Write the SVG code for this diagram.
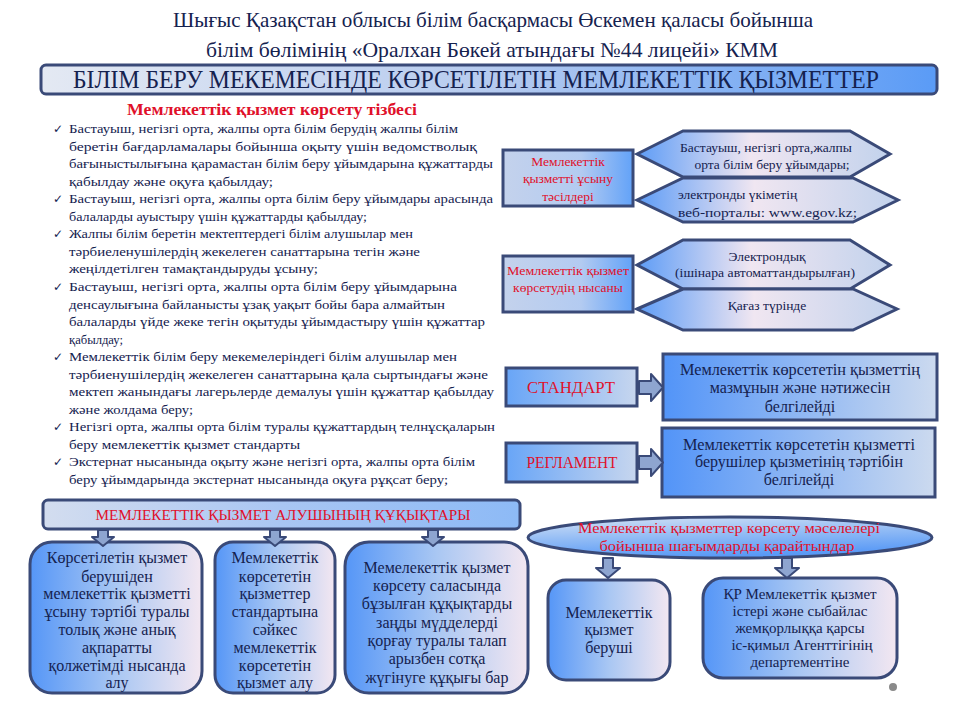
<svg xmlns="http://www.w3.org/2000/svg" width="960" height="720" viewBox="0 0 960 720">
<defs>
<linearGradient id="gBanner" x1="0" y1="0" x2="1" y2="0"><stop offset="0" stop-color="#e4e9f3"/><stop offset="0.5" stop-color="#b6cbef"/><stop offset="1" stop-color="#5a9bf6"/></linearGradient>
<linearGradient id="gBL" x1="0" y1="0" x2="1" y2="0"><stop offset="0" stop-color="#5596f7"/><stop offset="0.5" stop-color="#a9c7f3"/><stop offset="1" stop-color="#f3e7f1"/></linearGradient>
<linearGradient id="gSmall" x1="0" y1="0" x2="1" y2="0"><stop offset="0" stop-color="#c4d2ec"/><stop offset="0.6" stop-color="#b3cbf1"/><stop offset="1" stop-color="#62a2f8"/></linearGradient>
<linearGradient id="gHex" x1="0" y1="0" x2="1" y2="0"><stop offset="0" stop-color="#5d9cf6"/><stop offset="0.45" stop-color="#f0e6f1"/><stop offset="1" stop-color="#c2d2ec"/></linearGradient>
<linearGradient id="gStd" x1="0" y1="0" x2="1" y2="0"><stop offset="0" stop-color="#68a5f7"/><stop offset="1" stop-color="#c7d6ee"/></linearGradient>
<linearGradient id="gStdR" x1="0" y1="0" x2="1" y2="0"><stop offset="0" stop-color="#5294f8"/><stop offset="1" stop-color="#ccdaef"/></linearGradient>
<linearGradient id="gRights" x1="0" y1="0" x2="1" y2="0"><stop offset="0" stop-color="#d3ddef"/><stop offset="0.5" stop-color="#a9c6f3"/><stop offset="1" stop-color="#8dbaf6"/></linearGradient>
<linearGradient id="gEll" x1="0" y1="0" x2="0.3" y2="1"><stop offset="0" stop-color="#d6e3f5"/><stop offset="0.55" stop-color="#8fbaf5"/><stop offset="1" stop-color="#5a9af6"/></linearGradient>
<style>
.bd{stroke:#3a4a78;stroke-width:3}
.arr{fill:#8ea5d0;stroke:#3a4a78;stroke-width:2;stroke-linejoin:round}
text{fill:#15224f}
.li{font-size:13.5px}
.ck{font-size:12px}
.red{fill:#e0102a}
.c{text-anchor:middle}
.h{font-size:13.5px}
.b{font-size:16px}
</style>
</defs>
<g font-family="'Liberation Serif', 'Times New Roman', serif">
<g id="title">
<text x="493" y="27" text-anchor="middle" font-size="21" textLength="640" lengthAdjust="spacingAndGlyphs">Шығыс Қазақстан  облысы білім басқармасы Өскемен қаласы бойынша</text>
<text x="492" y="57" text-anchor="middle" font-size="21" textLength="572" lengthAdjust="spacingAndGlyphs">білім бөлімінің «Оралхан Бөкей атындағы №44 лицейі» КММ</text>
</g>

<g id="banner">
<rect x="41" y="65" width="896" height="29" rx="5" fill="url(#gBanner)" class="bd"/>
<text x="476" y="88" text-anchor="middle" font-size="25" textLength="806" lengthAdjust="spacingAndGlyphs">БІЛІМ БЕРУ МЕКЕМЕСІНДЕ КӨРСЕТІЛЕТІН МЕМЛЕКЕТТІК ҚЫЗМЕТТЕР</text>
</g>

<g id="list">
<text class="red" x="272" y="115" text-anchor="middle" font-size="16" font-weight="bold" textLength="290" lengthAdjust="spacingAndGlyphs">Мемлекеттік қызмет көрсету тізбесі</text>
<g font-family="DejaVu Sans, sans-serif" class="ck">
<text x="53" y="133">✓</text>
<text x="53" y="203">✓</text>
<text x="53" y="238">✓</text>
<text x="53" y="291">✓</text>
<text x="53" y="361">✓</text>
<text x="53" y="431">✓</text>
<text x="53" y="466">✓</text>
</g>
<g class="li">
<text x="69" y="133" textLength="389" lengthAdjust="spacingAndGlyphs">Бастауыш, негізгі орта, жалпы орта білім  берудің жалпы білім</text>
<text x="69" y="151" textLength="408" lengthAdjust="spacingAndGlyphs">беретін бағдарламалары бойынша оқыту үшін ведомстволық</text>
<text x="69" y="168" textLength="424" lengthAdjust="spacingAndGlyphs">бағыныстылығына қарамастан білім беру ұйымдарына құжаттарды</text>
<text x="69" y="186" textLength="204" lengthAdjust="spacingAndGlyphs">қабылдау және оқуға қабылдау;</text>
<text x="69" y="203" textLength="424" lengthAdjust="spacingAndGlyphs">Бастауыш, негізгі орта, жалпы орта білім  беру ұйымдары арасында</text>
<text x="69" y="221" textLength="298" lengthAdjust="spacingAndGlyphs">балаларды ауыстыру үшін құжаттарды қабылдау;</text>
<text x="69" y="238" textLength="344" lengthAdjust="spacingAndGlyphs">Жалпы білім  беретін мектептердегі білім алушылар мен</text>
<text x="69" y="256" textLength="351" lengthAdjust="spacingAndGlyphs">тәрбиеленушілердің  жекелеген санаттарына тегін және</text>
<text x="69" y="273" textLength="249" lengthAdjust="spacingAndGlyphs">жеңілдетілген  тамақтандыруды ұсыну;</text>
<text x="69" y="291" textLength="388" lengthAdjust="spacingAndGlyphs">Бастауыш, негізгі орта, жалпы орта білім  беру ұйымдарына</text>
<text x="69" y="309" textLength="376" lengthAdjust="spacingAndGlyphs">денсаулығына байланысты ұзақ уақыт бойы бара алмайтын</text>
<text x="69" y="326" textLength="416" lengthAdjust="spacingAndGlyphs">балаларды үйде жеке тегін оқытуды ұйымдастыру үшін құжаттар</text>
<text x="69" y="344" textLength="54" lengthAdjust="spacingAndGlyphs">қабылдау;</text>
<text x="69" y="361" textLength="388" lengthAdjust="spacingAndGlyphs">Мемлекеттік білім беру мекемелеріндегі білім  алушылар мен</text>
<text x="69" y="379" textLength="419" lengthAdjust="spacingAndGlyphs">тәрбиенушілердің  жекелеген санаттарына қала сыртындағы және</text>
<text x="69" y="396" textLength="425" lengthAdjust="spacingAndGlyphs">мектеп жанындағы лагерьлерде демалуы үшін құжаттар қабылдау</text>
<text x="69" y="414" textLength="124" lengthAdjust="spacingAndGlyphs">және жолдама беру;</text>
<text x="69" y="431" textLength="426" lengthAdjust="spacingAndGlyphs">Негізгі орта, жалпы  орта білім  туралы құжаттардың телнұсқаларын</text>
<text x="69" y="449" textLength="231" lengthAdjust="spacingAndGlyphs">беру мемлекеттік қызмет стандарты</text>
<text x="69" y="466" textLength="406" lengthAdjust="spacingAndGlyphs">Экстернат нысанында оқыту және негізгі  орта, жалпы орта білім</text>
<text x="69" y="484" textLength="379" lengthAdjust="spacingAndGlyphs">беру ұйымдарында экстернат нысанында оқуға рұқсат беру;</text>
</g>
</g>

<g id="methods">
<rect x="503" y="150" width="130" height="56" fill="url(#gSmall)" class="bd"/>
<text class="red h c" x="568" y="166">Мемлекеттік</text>
<text class="red h c" x="568" y="183">қызметті  ұсыну</text>
<text class="red h c" x="568" y="201">тәсілдері</text>
</g>
<g id="hex1">
<polygon points="637,154 683,131 850,131 890,154 850,177 683,177" fill="url(#gHex)" class="bd"/>
<text class="h c" x="766" y="152">Бастауыш, негізгі орта,жалпы</text>
<text class="h c" x="772" y="169">орта білім беру ұйымдары;</text>
</g>
<g id="hex2">
<polygon points="637,200 683,178 853,178 898,200 853,222 683,222" fill="url(#gHex)" class="bd"/>
<text class="h" x="678" y="199">электронды үкіметің</text>
<text class="h" x="678" y="217" textLength="179" lengthAdjust="spacingAndGlyphs">веб-порталы: www.egov.kz;</text>
</g>

<g id="form">
<rect x="503" y="256" width="130" height="56" fill="url(#gSmall)" class="bd"/>
<text class="red h c" x="568" y="275" textLength="122" lengthAdjust="spacingAndGlyphs">Мемлекеттік  қызмет</text>
<text class="red h c" x="568" y="292">көрсетудің нысаны</text>
</g>
<g id="hex3">
<polygon points="637,265 683,240 850,240 890,265 850,289 683,289" fill="url(#gHex)" class="bd"/>
<text class="h c" x="767" y="261">Электрондық</text>
<text class="h c" x="765" y="277" textLength="180" lengthAdjust="spacingAndGlyphs">(ішінара  автоматтандырылған)</text>
</g>
<g id="hex4">
<polygon points="637,309 683,289 853,289 897,309 853,330 683,330" fill="url(#gHex)" class="bd"/>
<text class="h c" x="767" y="310">Қағаз түрінде</text>
</g>

<g id="standard">
<rect x="506" y="368" width="131" height="38" fill="url(#gStd)" class="bd"/>
<text class="red c" x="571" y="393" font-size="17" textLength="88" lengthAdjust="spacingAndGlyphs">СТАНДАРТ</text>
</g>
<g id="standard-desc">
<rect x="663" y="354" width="274" height="66" fill="url(#gStdR)" class="bd"/>
<text class="b c" x="800" y="375" textLength="240" lengthAdjust="spacingAndGlyphs">Мемлекеттік көрсететін қызметтің</text>
<text class="b c" x="800" y="393">мазмұнын және нәтижесін</text>
<text class="b c" x="800" y="412">белгілейді</text>
</g>
<g id="reglament">
<rect x="506" y="443" width="131" height="39" fill="url(#gStd)" class="bd"/>
<text class="red c" x="572" y="468" font-size="17" textLength="91" lengthAdjust="spacingAndGlyphs">РЕГЛАМЕНТ</text>
</g>
<g id="reglament-desc">
<rect x="662" y="428" width="273" height="69" fill="url(#gStdR)" class="bd"/>
<text class="b c" x="799" y="450" textLength="232" lengthAdjust="spacingAndGlyphs">Мемлекеттік көрсететін қызметті</text>
<text class="b c" x="799" y="467">берушілер қызметінің тәртібін</text>
<text class="b c" x="799" y="485">белгілейді</text>
</g>

<g id="rights">
<rect x="43" y="500" width="477" height="29" rx="5" fill="url(#gRights)" class="bd"/>
<text class="red c" x="283" y="520" font-size="15" textLength="375" lengthAdjust="spacingAndGlyphs">МЕМЛЕКЕТТІК ҚЫЗМЕТ АЛУШЫНЫҢ ҚҰҚЫҚТАРЫ</text>
</g>
<g id="right1">
<rect x="30" y="542" width="172" height="151" rx="22" fill="url(#gBL)" class="bd"/>
<text class="b c" x="117" y="563">Көрсетілетін қызмет</text>
<text class="b c" x="117" y="582">берушіден</text>
<text class="b c" x="117" y="599">мемлекеттік қызметті</text>
<text class="b c" x="117" y="617">ұсыну тәртібі туралы</text>
<text class="b c" x="117" y="635">толық және анық</text>
<text class="b c" x="117" y="653">ақпаратты</text>
<text class="b c" x="117" y="671">қолжетімді нысанда</text>
<text class="b c" x="117" y="688">алу</text>
</g>
<g id="right2">
<rect x="215" y="542" width="120" height="151" rx="18" fill="url(#gBL)" class="bd"/>
<text class="b c" x="275" y="563">Мемлекеттік</text>
<text class="b c" x="275" y="582">көрсететін</text>
<text class="b c" x="275" y="599">қызметтер</text>
<text class="b c" x="275" y="617">стандартына</text>
<text class="b c" x="275" y="635">сәйкес</text>
<text class="b c" x="275" y="653">мемлекеттік</text>
<text class="b c" x="275" y="671">көрсететін</text>
<text class="b c" x="275" y="688">қызмет алу</text>
</g>
<g id="right3">
<rect x="345" y="542" width="183" height="151" rx="24" fill="url(#gBL)" class="bd"/>
<text class="b c" x="437" y="573">Мемелекеттік  қызмет</text>
<text class="b c" x="437" y="591">көрсету саласында</text>
<text class="b c" x="437" y="609">бұзылған құқықтарды</text>
<text class="b c" x="437" y="628">заңды мүдделерді</text>
<text class="b c" x="437" y="646">қорғау туралы талап</text>
<text class="b c" x="437" y="664">арызбен сотқа</text>
<text class="b c" x="437" y="683">жүгінуге құқығы бар</text>
</g>

<g id="complaints">
<ellipse cx="730" cy="537.5" rx="202" ry="20.5" fill="url(#gEll)" class="bd"/>
<text class="red c" x="729" y="533" font-size="15" textLength="302" lengthAdjust="spacingAndGlyphs">Мемлекеттік қызметтер көрсету мәселелері</text>
<text class="red c" x="727" y="551" font-size="15" textLength="255" lengthAdjust="spacingAndGlyphs">бойынша шағымдарды қарайтындар</text>
</g>
<g id="provider">
<rect x="548" y="580" width="122" height="100" rx="18" fill="url(#gBL)" class="bd"/>
<text class="b c" x="609" y="618">Мемлекеттік</text>
<text class="b c" x="609" y="635">қызмет</text>
<text class="b c" x="609" y="653">беруші</text>
</g>
<g id="agency">
<rect x="703" y="578" width="194" height="100" rx="20" fill="url(#gBL)" class="bd"/>
<text class="c" font-size="15" x="800" y="599">ҚР Мемлекеттік қызмет</text>
<text class="c" font-size="15" x="800" y="616">істері және сыбайлас</text>
<text class="c" font-size="15" x="800" y="633">жемқорлыққа қарсы</text>
<text class="c" font-size="15" x="802" y="650">іс-қимыл Агенттігінің</text>
<text class="c" font-size="15" x="800" y="667">департементіне</text>
</g>
</g>
<circle cx="893" cy="687" r="4" fill="#8a8a8a"/>

<g id="connectors">
<polygon class="arr" points="639,381 651,381 651,374 663,387.5 651,401 651,394 639,394"/>
<polygon class="arr" points="639,456 651,456 651,449 663,462.5 651,476 651,469 639,469"/>
<polygon class="arr" points="98,530 108,530 108,537 114,537 103,546 92,537 98,537"/>
<polygon class="arr" points="270,530 280,530 280,537 286,537 275,546 264,537 270,537"/>
<polygon class="arr" points="428,530 438,530 438,537 444,537 433,546 422,537 428,537"/>
<polygon class="arr" points="603,558 613,558 613,568 620,568 608,578 596,568 603,568"/>
<polygon class="arr" points="782,558 792,558 792,568 799,568 787,578 775,568 782,568"/>
</g>
</svg>
